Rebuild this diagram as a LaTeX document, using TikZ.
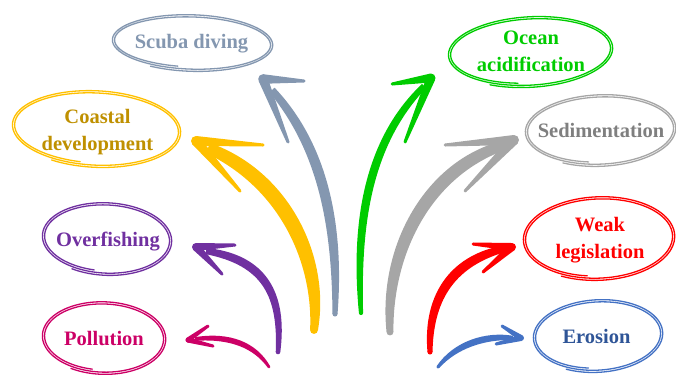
\documentclass[tikz,border=0pt]{standalone}
\usepackage{fontspec}
\setmainfont{Liberation Serif}
\usetikzlibrary{calc}

\definecolor{slate}{HTML}{8497B0}
\definecolor{gold}{HTML}{FFC000}
\definecolor{golddark}{HTML}{BF9000}
\definecolor{leaf}{HTML}{00CC00}
\definecolor{silt}{HTML}{A6A6A6}
\definecolor{siltdark}{HTML}{7F7F7F}
\definecolor{grape}{HTML}{7030A0}
\definecolor{berry}{HTML}{CC0066}
\definecolor{alarm}{HTML}{FF0000}
\definecolor{sea}{HTML}{4472C4}
\definecolor{seadark}{HTML}{2F5597}

% hand-drawn double loop around a label: colour, centre, rx, ry, tilt
\newcommand\scribble[5]{%
  \begin{scope}[shift={(#2)}, rotate=#5]
    \draw[#1, line width=1.3pt, line cap=round]
      plot[domain=100:840, samples=140, smooth, variable=\t]
      ({(#3-5+4.5*(\t-100)/740)*cos(\t)}, {(#4-5+4.5*(\t-100)/740)*sin(\t)});
  \end{scope}}

% brush-stroke arrow: colour, prefix of its coordinates, shaft width, barb width
\newcommand\brusharrow[4]{%
  \coordinate (bl) at ($(#2-b)!0.4*#3pt!90:(#2-c1)$);
  \coordinate (br) at ($(#2-b)!0.4*#3pt!-90:(#2-c1)$);
  \coordinate (c1l) at ($(#2-c1)!#3pt!90:(#2-c2)$);
  \coordinate (c1r) at ($(#2-c1)!#3pt!-90:(#2-c2)$);
  \coordinate (c2l) at ($(#2-c2)!#3pt!90:(#2-e)$);
  \coordinate (c2r) at ($(#2-c2)!#3pt!-90:(#2-e)$);
  \coordinate (el) at ($(#2-e)!0.55*#3pt!-90:(#2-c2)$);
  \coordinate (er) at ($(#2-e)!0.55*#3pt!90:(#2-c2)$);
  \fill[#1] (bl) .. controls (c1l) and (c2l) .. (el) -- (er)
            .. controls (c2r) and (c1r) .. (br) -- cycle;
  \fill[#1] (#2-b) circle (0.4*#3pt);
  \foreach \h in {h1,h2}{%
    \fill[#1] ($(#2-t)!#4pt!90:(#2-\h)$) -- ($(#2-\h)!1.5pt!-90:(#2-t)$)
      -- ($(#2-\h)!1.5pt!90:(#2-t)$) -- ($(#2-t)!#4pt!-90:(#2-\h)$) -- cycle;
    \fill[#1] (#2-\h) circle (1.5pt);
  }
  \fill[#1] (#2-t) circle (#4pt);
}

\begin{document}
\begin{tikzpicture}[x=1pt, y=-1pt,
  issue/.style={font=\bfseries\fontsize{20.5}{27}\selectfont, align=center, inner sep=0pt},
  oneline/.style={text height=14pt, text depth=4pt}]
\useasboundingbox (0,0) rectangle (676,378);

% ---- labels ----
\node[issue, oneline, text=slate]    (scuba)     at (191.5,43)  {Scuba diving};
\node[issue, text=golddark]          (coastal)   at (97.5,131.8) {Coastal\\development};
\node[issue, oneline, text=grape]    (overfish)  at (108,241)   {Overfishing};
\node[issue, oneline, text=berry]    (pollution) at (104,340)   {Pollution};
\node[issue, text=leaf]              (ocean)     at (531,51.5)  {Ocean\\acidification};
\node[issue, oneline, text=siltdark] (sediment)  at (601,132)   {Sedimentation};
\node[issue, text=alarm]             (weak)      at (600,239.8) {Weak\\legislation};
\node[issue, oneline, text=seadark]  (erosion)   at (596.5,338) {Erosion};

% ---- loops around the labels ----
\coordinate (scuba-c)     at (192,42.5);
\coordinate (coastal-c)   at (96,128.5);
\coordinate (overfish-c)  at (106.5,238.5);
\coordinate (pollution-c) at (103.5,337.5);
\coordinate (ocean-c)     at (530,51.5);
\coordinate (sediment-c)  at (600,130);
\coordinate (weak-c)      at (598.5,238);
\coordinate (erosion-c)   at (597.5,335.5);

\scribble{slate}{scuba-c}{82}{29.5}{-2}
\scribble{gold}{coastal-c}{86}{39.5}{-3}
\scribble{grape}{overfish-c}{66.5}{37.5}{-3}
\scribble{berry}{pollution-c}{63.5}{37.5}{-2}
\scribble{leaf}{ocean-c}{84}{36.5}{3}
\scribble{silt}{sediment-c}{77}{37}{2}
\scribble{alarm}{weak-c}{77.5}{43}{2}
\scribble{sea}{erosion-c}{66.5}{37.5}{3}

% ---- arrows: base, controls, shaft end, tip, barb ends ----
\coordinate (sa-b) at (335,314); \coordinate (sa-c1) at (338,230);
\coordinate (sa-c2) at (325,150); \coordinate (sa-e) at (272,90);
\coordinate (sa-t) at (263,79);  \coordinate (sa-h1) at (304,81);
\coordinate (sa-h2) at (288,142);
\brusharrow{slate}{sa}{6.3}{4.8}

\coordinate (ca-b) at (314,330); \coordinate (ca-c1) at (322,260);
\coordinate (ca-c2) at (285,180); \coordinate (ca-e) at (208,148);
\coordinate (ca-t) at (196,141); \coordinate (ca-h1) at (263,145);
\coordinate (ca-h2) at (240,191);
\brusharrow{gold}{ca}{9.8}{5}

\coordinate (oa-b) at (278,352); \coordinate (oa-c1) at (283,295);
\coordinate (oa-c2) at (265,260); \coordinate (oa-e) at (206,251);
\coordinate (oa-t) at (196,247); \coordinate (oa-h1) at (235,245);
\coordinate (oa-h2) at (222,274);
\brusharrow{grape}{oa}{5.7}{4}

\coordinate (pa-b) at (269,367); \coordinate (pa-c1) at (255,345);
\coordinate (pa-c2) at (230,335); \coordinate (pa-e) at (195,339);
\coordinate (pa-t) at (188,340); \coordinate (pa-h1) at (208,326);
\coordinate (pa-h2) at (213,346);
\brusharrow{berry}{pa}{3.4}{2.6}

\coordinate (ga-b) at (361,313); \coordinate (ga-c1) at (356,230);
\coordinate (ga-c2) at (365,145); \coordinate (ga-e) at (424,86);
\coordinate (ga-t) at (431,78);  \coordinate (ga-h1) at (392,84);
\coordinate (ga-h2) at (405,142);
\brusharrow{leaf}{ga}{5.2}{4.5}

\coordinate (da-b) at (390,332); \coordinate (da-c1) at (385,250);
\coordinate (da-c2) at (428,168); \coordinate (da-e) at (505,145);
\coordinate (da-t) at (514,140); \coordinate (da-h1) at (445,145);
\coordinate (da-h2) at (465,191);
\brusharrow{silt}{da}{8.6}{5}

\coordinate (wa-b) at (430,352); \coordinate (wa-c1) at (428,300);
\coordinate (wa-c2) at (450,262); \coordinate (wa-e) at (503,249);
\coordinate (wa-t) at (512,247); \coordinate (wa-h1) at (473,244);
\coordinate (wa-h2) at (483,272);
\brusharrow{alarm}{wa}{6.3}{4}

\coordinate (ea-b) at (438,367); \coordinate (ea-c1) at (455,345);
\coordinate (ea-c2) at (485,335); \coordinate (ea-e) at (513,338);
\coordinate (ea-t) at (521,338); \coordinate (ea-h1) at (502,326);
\coordinate (ea-h2) at (496,344);
\brusharrow{sea}{ea}{4}{3}
\end{tikzpicture}
\end{document}
